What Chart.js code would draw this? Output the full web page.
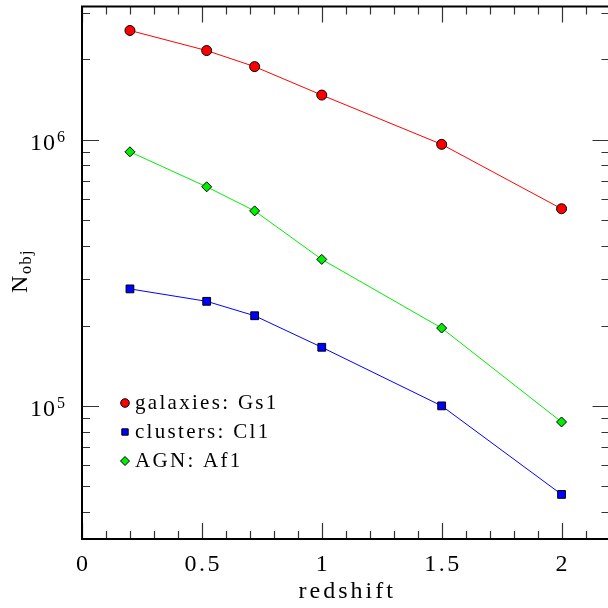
<!DOCTYPE html>
<html>
<head>
<meta charset="utf-8">
<script src="https://cdn.jsdelivr.net/npm/chart.js@4/dist/chart.umd.min.js"></script>
<style>
  html, body { margin: 0; padding: 0; background: #fff; overflow: hidden; }
  #wrap { width: 616px; height: 608px; }
</style>
</head>
<body>
<div id="wrap"><canvas id="nobjChart" width="616" height="608"></canvas></div>
<script>
// object counts per redshift bin
const redshifts = [0.2, 0.52, 0.72, 1.0, 1.5, 2.0];
const galaxies = [2.57e6, 2.16e6, 1.88e6, 1.47e6, 9.6e5, 5.5e5];
const clusters = [2.75e5, 2.47e5, 2.18e5, 1.66e5, 1.0e5, 4.65e4];
const agn = [9.0e5, 6.65e5, 5.4e5, 3.55e5, 1.96e5, 8.7e4];

const seriesNames = ["galaxies: Gs1", "clusters: Cl1", "AGN: Af1"];
const xTickLabels = ["0", "0.5", "1", "1.5", "2"];
const yDecades = [5, 6];

const FONT = "'Liberation Serif', 'Times New Roman', serif";

function toPoints(vals) {
    return redshifts.map((z, i) => ({ x: z, y: vals[i] }));
}

function marker(ctx, style, x, y, r, fill) {
    ctx.save();
    ctx.fillStyle = fill;
    ctx.strokeStyle = "#000";
    ctx.lineWidth = 1;
    ctx.beginPath();
    if (style === "circle") {
        ctx.arc(x, y, r, 0, Math.PI * 2);
    } else if (style === "rect") {
        ctx.rect(x - r, y - r, 2 * r, 2 * r);
    } else {
        ctx.moveTo(x - r, y);
        ctx.lineTo(x, y - r);
        ctx.lineTo(x + r, y);
        ctx.lineTo(x, y + r);
        ctx.closePath();
    }
    ctx.fill();
    ctx.stroke();
    ctx.restore();
}

function spacedText(ctx, text, x, y, size, spacing, align) {
    ctx.font = size + "px " + FONT;
    ctx.letterSpacing = spacing + "px";
    let w = ctx.measureText(text).width - spacing;
    let left = x;
    if (align === "center") left = x - w / 2;
    if (align === "right") left = x - w;
    ctx.textAlign = "left";
    ctx.fillText(text, left, y);
}

// frame, inward ticks, labels and legend
const framePlugin = {
    id: "frame",
    afterDraw(chart) {
        const ctx = chart.ctx;
        const a = chart.chartArea;
        const xs = chart.scales.x;
        const ys = chart.scales.y;
        ctx.save();
        ctx.fillStyle = "#000";
        ctx.textBaseline = "alphabetic";

        // ticks
        ctx.strokeStyle = "#333";
        ctx.lineWidth = 1.2;
        ctx.beginPath();
        for (let i = 0; i <= 22; i++) {
            const v = i / 10;
            const px = Math.round(xs.getPixelForValue(v)) + 0.5;
            const len = i % 5 === 0 ? 16 : 8;
            ctx.moveTo(px, a.bottom); ctx.lineTo(px, a.bottom - len);
            ctx.moveTo(px, a.top); ctx.lineTo(px, a.top + len);
        }
        for (let d = 4; d <= 6; d++) {
            for (let m = 1; m <= 9; m++) {
                const v = m * Math.pow(10, d);
                if (v < ys.min || v > ys.max) continue;
                const py = Math.round(ys.getPixelForValue(v)) + 0.5;
                const len = m === 1 ? 17 : 8;
                ctx.moveTo(a.left, py); ctx.lineTo(a.left + len, py);
                ctx.moveTo(a.right, py); ctx.lineTo(a.right - len, py);
            }
        }
        ctx.stroke();

        // box
        ctx.strokeStyle = "#000";
        ctx.lineWidth = 2;
        ctx.strokeRect(a.left, a.top, a.right - a.left, a.bottom - a.top);

        // x tick labels
        xTickLabels.forEach(t => {
            const px = xs.getPixelForValue(parseFloat(t));
            spacedText(ctx, t, px, a.bottom + 32, 24, 2.5, "center");
        });

        // y tick labels as 10^n
        yDecades.forEach(d => {
            const py = ys.getPixelForValue(Math.pow(10, d));
            spacedText(ctx, "10", 55, py + 10, 24, 1, "right");
            spacedText(ctx, String(d), 57, py + 2, 16, 0, "left");
        });

        // axis titles
        spacedText(ctx, "redshift", (a.left + a.right) / 2, 598, 24, 3, "center");
        ctx.save();
        ctx.translate(27, 293);
        ctx.rotate(-Math.PI / 2);
        spacedText(ctx, "N", 0, 0, 24, 0, "left");
        spacedText(ctx, "obj", 19, 4, 16, 1.5, "left");
        ctx.restore();

        // legend
        const legendStyles = [[4.3, 125, 403], [3.2, 125, 432], [4.5, 125, 461]];
        chart.data.datasets.forEach((ds, i) => {
            const [r, lx, ly] = legendStyles[i];
            marker(ctx, ds.pointStyle, lx, ly, r, ds.pointBackgroundColor);
            ctx.fillStyle = "#000";
            spacedText(ctx, ds.label, 135, ly + 6, 21, 2.3, "left");
        });
        ctx.restore();
    }
};

new Chart(document.getElementById("nobjChart"), {
    type: "line",
    data: {
        datasets: [
            {
                label: seriesNames[0],
                data: toPoints(galaxies),
                borderColor: "#ff0000",
                pointBackgroundColor: "#ff0000",
                pointStyle: "circle",
                pointRadius: 5,
            },
            {
                label: seriesNames[1],
                data: toPoints(clusters),
                borderColor: "#0000ff",
                pointBackgroundColor: "#0000ff",
                pointStyle: "rect",
                pointRadius: 5.5,
            },
            {
                label: seriesNames[2],
                data: toPoints(agn),
                borderColor: "#00ee00",
                pointBackgroundColor: "#00ee00",
                pointStyle: "rectRot",
                pointRadius: 5,
            },
        ].map(ds => Object.assign(ds, {
            borderWidth: 1,
            pointBorderColor: "#000",
            pointBorderWidth: 1,
            tension: 0,
            fill: false,
        })),
    },
    options: {
        responsive: false,
        animation: false,
        layout: { padding: { left: 82, right: 6, top: 5, bottom: 69 } },
        plugins: { legend: { display: false }, tooltip: { enabled: false } },
        scales: {
            x: { type: "linear", min: 0, max: 2.2, display: false },
            y: { type: "logarithmic", min: Math.pow(10, 4.5), max: Math.pow(10, 6.5), display: false },
        },
    },
    plugins: [framePlugin],
});
</script>
</body>
</html>
